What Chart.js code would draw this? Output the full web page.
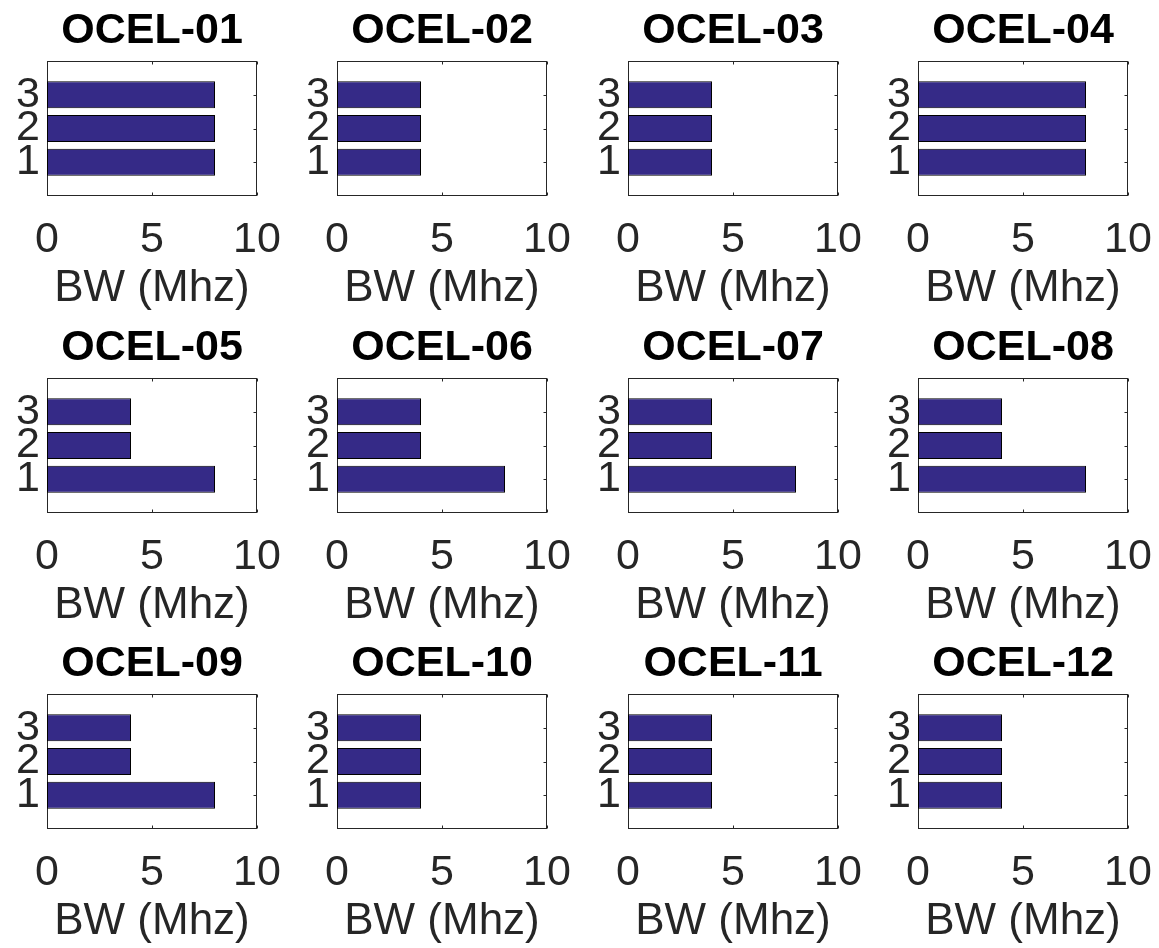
<!DOCTYPE html>
<html>
<head>
<meta charset="utf-8">
<script src="https://cdn.jsdelivr.net/npm/chart.js@4.4.1/dist/chart.umd.min.js"></script>
<style>
  body { margin: 0; background: #fff; }
  #grid { position: relative; width: 1159px; height: 948px; overflow: hidden; }
  #grid canvas { position: absolute; }
</style>
</head>
<body>
<div id="grid"></div>
<script>
const titles = ['OCEL-01', 'OCEL-02', 'OCEL-03', 'OCEL-04',
                'OCEL-05', 'OCEL-06', 'OCEL-07', 'OCEL-08',
                'OCEL-09', 'OCEL-10', 'OCEL-11', 'OCEL-12']
const channels = [1, 2, 3]
const xTicks = [0, 5, 10]
const xLabel = 'BW (Mhz)'

// bandwidth per channel (1, 2, 3)
const ocel01 = [8, 8, 8]
const ocel02 = [4, 4, 4]
const ocel03 = [4, 4, 4]
const ocel04 = [8, 8, 8]
const ocel05 = [8, 4, 4]
const ocel06 = [8, 4, 4]
const ocel07 = [8, 4, 4]
const ocel08 = [8, 4, 4]
const ocel09 = [8, 4, 4]
const ocel10 = [4, 4, 4]
const ocel11 = [4, 4, 4]
const ocel12 = [4, 4, 4]

const series = [ocel01, ocel02, ocel03, ocel04, ocel05, ocel06,
                ocel07, ocel08, ocel09, ocel10, ocel11, ocel12]

const colLeft = [0, 290, 581, 871]
const rowTop = [0, 317, 633]
const W = 288, H = 317

const font = "'Liberation Sans', Arial, Helvetica, sans-serif"
const ink = '#262626'

// matlab style box with inward ticks
const boxPlugin = {
  id: 'matlabBox',
  beforeDatasetsDraw(chart) {
    const ctx = chart.ctx
    const a = chart.chartArea
    const x = chart.scales.x, y = chart.scales.y
    const l = Math.round(a.left) + 0.5, r = Math.round(a.right) - 0.5
    const t = Math.round(a.top) + 0.5, b = Math.round(a.bottom) - 0.5
    ctx.save()
    ctx.strokeStyle = ink
    ctx.lineWidth = 1
    ctx.strokeRect(l, t, r - l, b - t)
    ctx.beginPath()
    x.ticks.forEach(tk => {
      const px = Math.round(x.getPixelForValue(tk.value)) + 0.5
      ctx.moveTo(px, b); ctx.lineTo(px, b - 3)
      ctx.moveTo(px, t); ctx.lineTo(px, t + 3)
    })
    y.ticks.forEach(tk => {
      const py = Math.round(y.getPixelForValue(tk.value)) + 0.5
      ctx.moveTo(l, py); ctx.lineTo(l + 3, py)
      ctx.moveTo(r, py); ctx.lineTo(r - 3, py)
    })
    ctx.stroke()
    ctx.restore()
  }
}

function noPad(scale) {
  scale.paddingLeft = 0
  scale.paddingRight = 0
  scale.paddingTop = 0
  scale.paddingBottom = 0
}

function renderPanel(i) {
  const row = Math.floor(i / 4), col = i % 4
  const canvas = document.createElement('canvas')
  canvas.width = W
  canvas.height = H
  canvas.style.left = colLeft[col] + 'px'
  canvas.style.top = rowTop[row] + 'px'
  document.getElementById('grid').appendChild(canvas)

  new Chart(canvas.getContext('2d'), {
    type: 'bar',
    data: {
      datasets: [{
        data: series[i].map((v, k) => ({ x: v, y: channels[k] })),
        backgroundColor: '#352a87',
        borderColor: '#000',
        borderWidth: 1,
        borderSkipped: false,
        categoryPercentage: 1,
        barPercentage: 0.8
      }]
    },
    options: {
      indexAxis: 'y',
      responsive: false,
      animation: false,
      events: [],
      layout: { padding: { left: 0, right: W - 47 - 210, top: 0, bottom: 0 } },
      plugins: {
        legend: { display: false },
        tooltip: { enabled: false },
        title: {
          display: true,
          text: titles[i],
          fullSize: false,
          color: '#000',
          font: { family: font, size: 43, weight: 'bold', lineHeight: 1 },
          padding: { top: 10, bottom: 8 }
        }
      },
      scales: {
        x: {
          type: 'linear',
          min: 0,
          max: 10,
          offset: false,
          afterBuildTicks: s => { s.ticks = xTicks.map(v => ({ value: v })) },
          afterFit: s => { s.height = H - 61 - 135; noPad(s) },
          grid: { display: false, drawTicks: false },
          border: { display: false },
          ticks: { color: ink, font: { family: font, size: 43 }, padding: 18, maxRotation: 0, autoSkip: false },
          title: {
            display: true,
            text: xLabel,
            color: ink,
            font: { family: font, size: 44, lineHeight: 1.2 },
            padding: { top: 0, bottom: 2 }
          }
        },
        y: {
          type: 'linear',
          min: 0,
          max: 4,
          offset: false,
          afterBuildTicks: s => { s.ticks = channels.map(v => ({ value: v })) },
          afterFit: s => { s.width = 47; noPad(s) },
          grid: { display: false, drawTicks: false, offset: false },
          border: { display: false },
          ticks: { color: ink, font: { family: font, size: 43 }, padding: 7, autoSkip: false }
        }
      }
    },
    plugins: [boxPlugin]
  })
}

for (let i = 0; i < titles.length; i++) renderPanel(i)
</script>
</body>
</html>
